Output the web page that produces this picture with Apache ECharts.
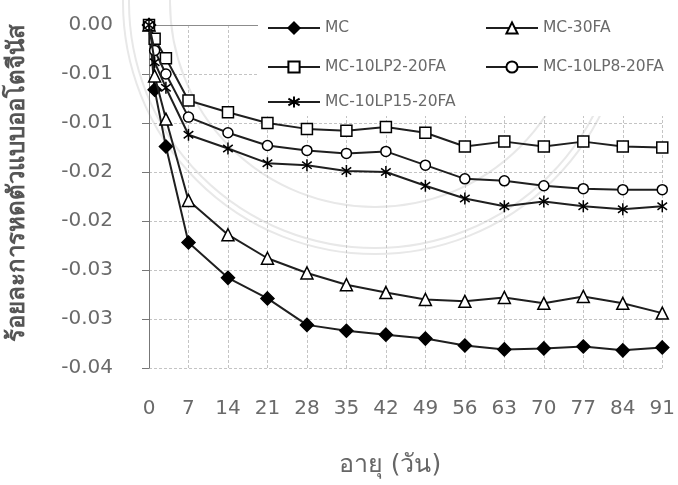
<!DOCTYPE html>
<html>
<head>
<meta charset="utf-8">
<script src="https://cdn.jsdelivr.net/npm/echarts@6/dist/echarts.min.js"></script>
<style>
  html, body { margin: 0; padding: 0; background: #fff; }
  #chart { width: 678px; height: 485px; }
</style>
</head>
<body>
<div id="chart"></div>
<script>
// Autogenous shrinkage (%) against age in days
const days = [0, 1, 3, 7, 14, 21, 28, 35, 42, 49, 56, 63, 70, 77, 84, 91];
const xTicks = [0, 7, 14, 21, 28, 35, 42, 49, 56, 63, 70, 77, 84, 91];
const yTicks = [0, -0.005, -0.01, -0.015, -0.02, -0.025, -0.03, -0.035];
const yTickLabels = ['0.00', '-0.01', '-0.01', '-0.02', '-0.02', '-0.03', '-0.03', '-0.04'];

const seriesNames = ['MC', 'MC-30FA', 'MC-10LP2-20FA', 'MC-10LP8-20FA', 'MC-10LP15-20FA'];
const mc          = [0, -0.0066, -0.0124, -0.0222, -0.0258, -0.0279, -0.0306, -0.0312, -0.0316, -0.0320, -0.0327, -0.0331, -0.0330, -0.0328, -0.0332, -0.0329];
const mc30fa      = [0, -0.0052, -0.0096, -0.0179, -0.0214, -0.0238, -0.0253, -0.0265, -0.0273, -0.0280, -0.0282, -0.0278, -0.0284, -0.0277, -0.0284, -0.0294];
const mcLp2       = [0, -0.0014, -0.0034, -0.0077, -0.0089, -0.0100, -0.0106, -0.0108, -0.0104, -0.0110, -0.0124, -0.0119, -0.0124, -0.0119, -0.0124, -0.0125];
const mcLp8       = [0, -0.0026, -0.0050, -0.0094, -0.0110, -0.0123, -0.0128, -0.0131, -0.0129, -0.0143, -0.0157, -0.0159, -0.0164, -0.0167, -0.0168, -0.0168];
const mcLp15      = [0, -0.0038, -0.0064, -0.0112, -0.0126, -0.0141, -0.0143, -0.0149, -0.0150, -0.0164, -0.0177, -0.0185, -0.0180, -0.0185, -0.0188, -0.0185];

const yTitle = 'ร้อยละการหดตัวแบบออโตจีนัส';
const xTitle = 'อายุ (วัน)';

const FONT = '"DejaVu Sans", "Noto Sans", sans-serif';
const STAR = 'path://M5,0L5,10M1,2L9,8M9,2L1,8';

function pairs(vals) { return days.map((d, i) => [d, vals[i]]); }

const markers = [
  { symbol: 'diamond',  size: 13, fill: '#000' },
  { symbol: 'triangle', size: 12, fill: '#fff' },
  { symbol: 'rect',     size: 11, fill: '#fff' },
  { symbol: 'circle',   size: 10, fill: '#fff' },
  { symbol: STAR,       size: 12, fill: '#fff' }
];
const values = [mc, mc30fa, mcLp2, mcLp8, mcLp15];

const series = seriesNames.map((name, i) => ({
  name: name,
  type: 'line',
  xAxisIndex: 0,
  data: pairs(values[i]),
  symbol: markers[i].symbol,
  symbolSize: markers[i].size,
  symbolKeepAspect: true,
  showAllSymbol: true,
  lineStyle: { color: '#1f1f1f', width: 2 },
  itemStyle: { color: markers[i].fill, borderColor: '#000', borderWidth: 1.5 },
  emphasis: { disabled: true },
  z: 3 + i
}));

// Legend: two columns, three rows
const legendSlots = [
  { left: 267, row: 29 },
  { left: 485, row: 29 },
  { left: 267, row: 68 },
  { left: 485, row: 68 },
  { left: 267, row: 103 }
];
const legends = seriesNames.map((name, i) => ({
  data: [name],
  left: legendSlots[i].left,
  top: legendSlots[i].row - 9,
  padding: 0,
  itemWidth: 52,
  itemHeight: 14,
  selectedMode: false,
  textStyle: { color: '#6a6a6a', fontSize: 15.5, fontFamily: FONT }
}));

// Faint seal rings behind the plot
const rings = [205, 246, 252].map(r => ({
  type: 'circle',
  shape: { cx: 375, cy: 2, r: r },
  style: { fill: 'none', stroke: '#e8e8e8', lineWidth: 2 },
  z: 0, silent: true
}));

const chart = echarts.init(document.getElementById('chart'), null, { renderer: 'canvas' });
chart.setOption({
  backgroundColor: '#fff',
  animation: false,
  grid: { left: 149, right: 11, top: 25, bottom: 117 },
  legend: legends,
  xAxis: [
    {
      type: 'value', position: 'bottom',
      min: xTicks[0], max: xTicks[xTicks.length - 1], interval: 7,
      axisLine: { show: false },
      axisTick: { show: false },
      axisLabel: { margin: 31, color: '#6a6a6a', fontSize: 20, fontFamily: FONT },
      splitLine: { show: true, lineStyle: { color: '#c4c4c4', type: [3, 2], width: 1 } }
    },
    {
      type: 'value', position: 'top',
      min: xTicks[0], max: xTicks[xTicks.length - 1], interval: 7,
      axisLine: { show: true, onZero: false, lineStyle: { color: '#8c8c8c', width: 1 } },
      axisTick: { show: false },
      axisLabel: { show: false },
      splitLine: { show: false }
    }
  ],
  yAxis: {
    type: 'value',
    min: yTicks[yTicks.length - 1], max: yTicks[0], interval: 0.005,
    axisLine: { show: true, lineStyle: { color: '#777', width: 1 } },
    axisTick: { show: true, inside: false, length: 7, lineStyle: { color: '#777' } },
    axisLabel: {
      margin: 36, color: '#6a6a6a', fontSize: 20, fontFamily: FONT,
      formatter: v => {
        const idx = yTicks.findIndex(t => Math.abs(t - v) < 1e-9);
        return idx >= 0 ? yTickLabels[idx] : '';
      }
    },
    splitLine: { show: true, lineStyle: { color: '#c4c4c4', type: [3, 2], width: 1 } }
  },
  graphic: rings.concat([
    {
      type: 'rect',
      shape: { x: 258, y: 0, width: 420, height: 116 },
      style: { fill: '#fff' },
      z: 1, silent: true
    },
    {
      type: 'text',
      x: 18, y: 183, rotation: Math.PI / 2,
      style: {
        text: yTitle, fill: '#555', font: 'bold 24px ' + FONT,
        textAlign: 'center', textVerticalAlign: 'middle'
      },
      z: 5
    },
    {
      type: 'text',
      x: 390, y: 465,
      style: {
        text: xTitle, fill: '#666', font: '25px ' + FONT,
        textAlign: 'center', textVerticalAlign: 'middle'
      },
      z: 5
    }
  ]),
  series: series
});
</script>
</body>
</html>
